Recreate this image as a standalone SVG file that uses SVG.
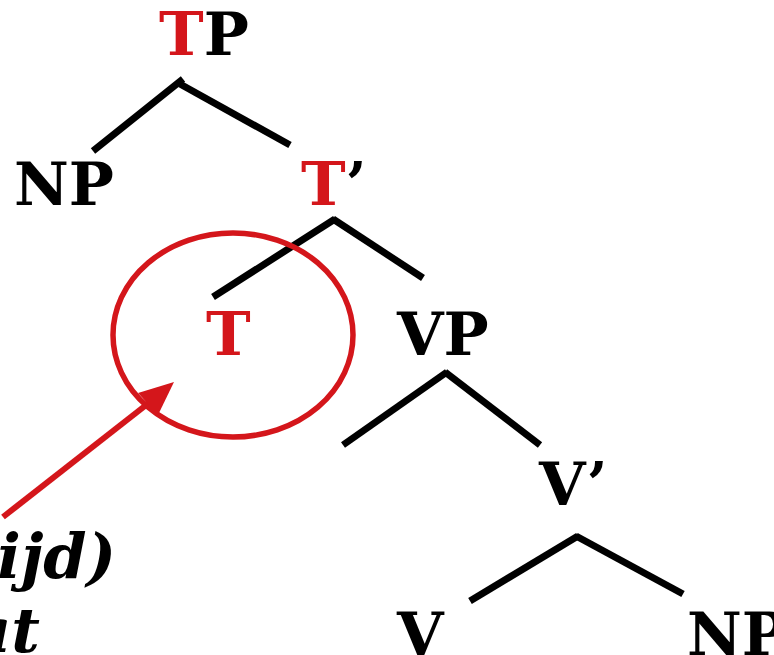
<svg xmlns="http://www.w3.org/2000/svg" width="774" height="655" viewBox="0 0 774 655">
<style>
.lbl{font-family:"DejaVu Serif",serif;font-weight:bold;font-size:60px;fill:#000}
.red{fill:#d4161b}
.it{font-family:"DejaVu Serif",serif;font-weight:bold;font-style:italic;font-size:62px;fill:#000}
.edge{stroke:#000;stroke-width:7;fill:none}
</style>
<rect width="774" height="655" fill="#fff"/>
<g id="connectors">
<path class="edge" d="M183,79 L93,151"/>
<path class="edge" d="M180,84 L290,145"/>
<path class="edge" d="M335,219 L213,297"/>
<path class="edge" d="M333,219 L423,278"/>
<path class="edge" d="M447,372 L343,445"/>
<path class="edge" d="M445,372 L540,445"/>
<path class="edge" d="M578,536 L470,601"/>
<path class="edge" d="M576,536 L683,594"/>
</g>
<g id="TP"><text class="lbl" x="159" y="55"><tspan class="red">T</tspan>P</text></g>
<g id="NP1"><text class="lbl" x="14" y="205">NP</text></g>
<g id="Tbar"><text class="lbl" x="301" y="205"><tspan class="red">T</tspan>’</text></g>
<g id="T"><text class="lbl red" x="206" y="355">T</text></g>
<g id="VP"><text class="lbl" x="397" y="355">VP</text></g>
<g id="Vbar"><text class="lbl" x="539" y="505">V’</text></g>
<g id="V"><text class="lbl" x="397" y="655">V</text></g>
<g id="NP2"><text class="lbl" x="687" y="655">NP</text></g>
<g id="highlight">
<ellipse cx="233" cy="335" rx="120" ry="102" fill="none" stroke="#d4161b" stroke-width="5.5"/>
<path d="M3,517 L150,402" stroke="#d4161b" stroke-width="6" fill="none"/>
<path d="M174,382 L138,393 L158,415 z" fill="#d4161b"/>
</g>
<g id="note">
<text class="it" x="116" y="578" text-anchor="end">ijd)</text>
<text class="it" x="40" y="652" text-anchor="end">at</text>
</g>
</svg>
